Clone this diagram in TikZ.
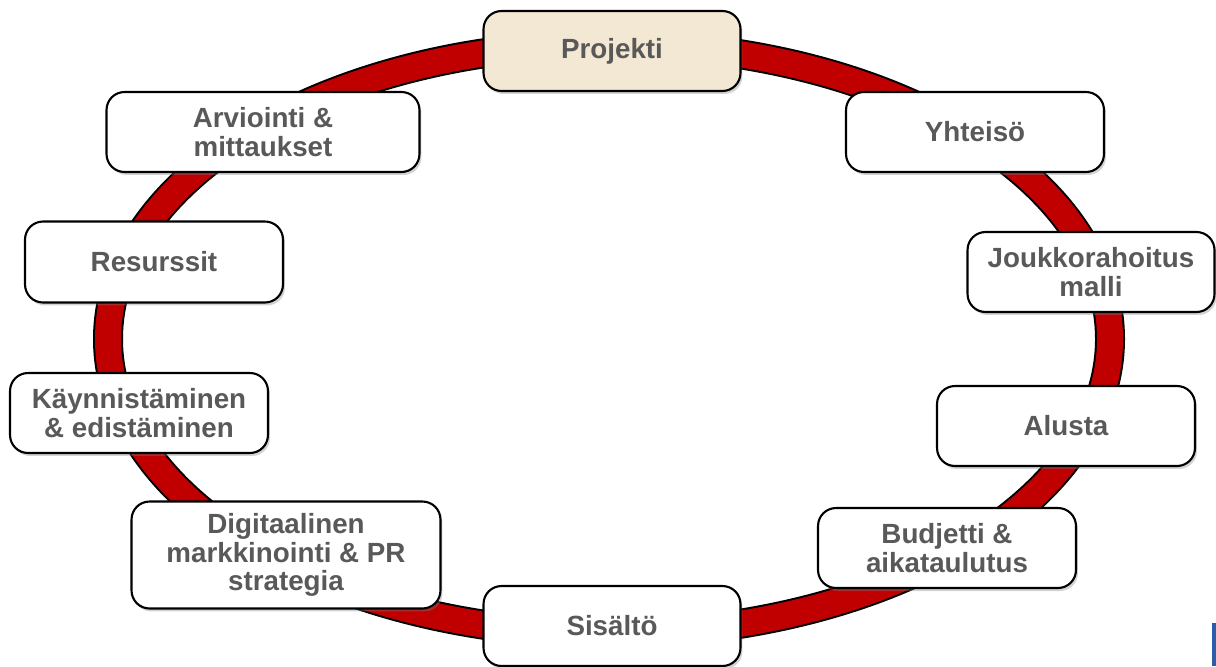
\documentclass[tikz,border=0pt]{standalone}
\usepackage{fontspec}
\setmainfont{Liberation Sans}
\usepackage{xcolor}
\usetikzlibrary{shadows}

\definecolor{ringred}{HTML}{C00000}
\definecolor{txtgray}{HTML}{595959}
\definecolor{beige}{HTML}{F3E8D3}
\definecolor{edgeblue}{HTML}{2A5DA8}

\tikzset{
    stage/.style={draw=black, line width=1.2pt, fill=white,
        rounded corners=0.36cm, align=center,
        text=txtgray, font=\fontsize{15.8}{16.2}\selectfont\bfseries,
        drop shadow={shadow xshift=0.04cm, shadow yshift=-0.06cm, opacity=0.35},
        inner sep=0pt}
}

\begin{document}
\begin{tikzpicture}[x=0.02cm, y=-0.02cm]
                \useasboundingbox (0,0) rectangle (1216,666);
                % Ring
                \draw [black, line width=0.6cm] (609,339) ellipse [x radius=501, y radius=295];
                \draw [ringred, line width=0.52cm] (609,339) ellipse [x radius=501, y radius=295];
                % Projekti
                \node [stage,
                    fill=beige,
                    minimum width=5.14cm,
                    minimum height=1.6cm] (projekti) at (612,51) {Projekti};
                % Yhteiso
                \node [stage,
                    minimum width=5.16cm,
                    minimum height=1.6cm] (yhteiso) at (975,132) {Yhteisö};
                % Joukkorahoitus
                \node [stage,
                    minimum width=4.94cm,
                    minimum height=1.6cm] (malli) at (1091,272) {Joukkorahoitus\\malli};
                % Alusta
                \node [stage,
                    minimum width=5.16cm,
                    minimum height=1.6cm] (alusta) at (1066,426) {Alusta};
                % Budjetti
                \node [stage,
                    minimum width=5.16cm,
                    minimum height=1.6cm] (budjetti) at (947,548) {Budjetti \&\\aikataulutus};
                % Sisalto
                \node [stage,
                    minimum width=5.14cm,
                    minimum height=1.6cm] (sisalto) at (612,626) {Sisältö};
                % Digitaalinen markkinointi
                \node [stage,
                    minimum width=6.18cm,
                    minimum height=2.14cm] (digi) at (286,555) {Digitaalinen\\markkinointi \& PR\\strategia};
                % Kaynnistaminen
                \node [stage,
                    minimum width=5.16cm,
                    minimum height=1.6cm] (kaynnistys) at (139,413) {Käynnistäminen\\\& edistäminen};
                % Resurssit
                \node [stage,
                    minimum width=5.16cm,
                    minimum height=1.62cm] (resurssit) at (154,262) {Resurssit};
                % Arviointi
                \node [stage,
                    minimum width=6.26cm,
                    minimum height=1.6cm] (arviointi) at (263,132) {Arviointi \&\\mittaukset};
                % edge of slide
                \fill [edgeblue] (1212,623) rectangle (1216,666);
            \end{tikzpicture}
\end{document}
